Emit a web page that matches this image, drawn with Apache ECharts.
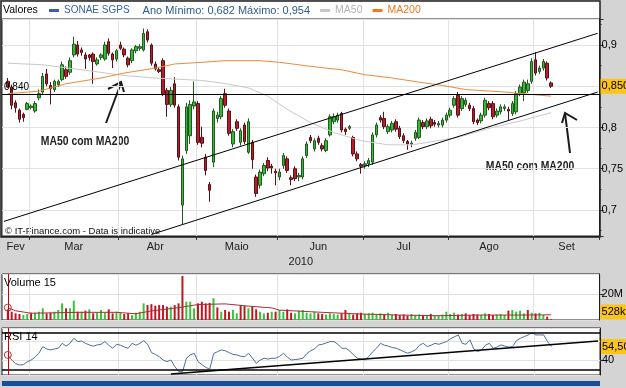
<!DOCTYPE html>
<html><head><meta charset="utf-8">
<script src="https://cdn.jsdelivr.net/npm/echarts@6/dist/echarts.min.js"></script>
<style>html,body{margin:0;padding:0;background:#d4d4d4;}#c{width:626px;height:388px;}</style>
</head><body><div id="c"></div>
<script>
const dates = ['02-18','02-19','02-22','02-23','02-24','02-25','02-26',
'03-01','03-02','03-03','03-04','03-05','03-08','03-09','03-10','03-11','03-12','03-15','03-16','03-17','03-18','03-19','03-22','03-23','03-24','03-25','03-26','03-29','03-30','03-31',
'04-01','04-06','04-07','04-08','04-09','04-12','04-13','04-14','04-15','04-16','04-19','04-20','04-21','04-22','04-23','04-26','04-27','04-28','04-29','04-30',
'05-03','05-04','05-05','05-06','05-07','05-10','05-11','05-12','05-13','05-14','05-17','05-18','05-19','05-20','05-21','05-24','05-25','05-26','05-27','05-28','05-31',
'06-01','06-02','06-03','06-04','06-07','06-08','06-09','06-10','06-11','06-14','06-15','06-16','06-17','06-18','06-21','06-22','06-23','06-24','06-25','06-28','06-29','06-30',
'07-01','07-02','07-05','07-06','07-07','07-08','07-09','07-12','07-13','07-14','07-15','07-16','07-19','07-20','07-21','07-22','07-23','07-26','07-27','07-28','07-29','07-30',
'08-02','08-03','08-04','08-05','08-06','08-09','08-10','08-11','08-12','08-13','08-16','08-17','08-18','08-19','08-20','08-23','08-24','08-25','08-26','08-27','08-30','08-31',
'09-01','09-02','09-03','09-06','09-07','09-08','09-09','09-10','09-13','09-14','09-15','09-16','09-17','09-20','09-21','09-22','09-23'];
const firstTradingDate = '02-19';
const monthLabels = {'02':'Fev','03':'Mar','04':'Abr','05':'Maio','06':'Jun','07':'Jul','08':'Ago','09':'Set'};
const yearLabel = '2010';

const open = [.856,.849,.830,.821,.816,.822,.824,.820,.836,.843,
.865,.851,.846,.852,.858,.870,.867,.888,.900,.894,
.888,.888,.889,.877,.885,.883,.904,.889,.883,.900,
.895,.884,.881,.893,.896,.894,.916,.900,.877,.870,
.881,.845,.828,.853,.825,.706,.772,.790,.826,.829,
.788,.764,.731,.758,.811,.813,.841,.820,.780,.807,
.782,.803,.770,.782,.740,.730,.744,.760,.753,.747,
.740,.754,.762,.739,.750,.740,.740,.766,.788,.774,
.787,.778,.772,.791,.807,.809,.817,.798,.799,.788,
.768,.755,.754,.756,.758,.791,.812,.811,.795,.797,
.807,.799,.790,.783,.780,.787,.788,.806,.801,.810,
.806,.803,.803,.809,.815,.827,.839,.823,.828,.827,
.823,.809,.808,.815,.829,.829,.815,.819,.823,.822,
.817,.819,.841,.842,.845,.856,.882,.868,.872,.878,
.854];
const high = [.860,.852,.833,.823,.818,.831,.828,.832,.846,.866,
.871,.855,.858,.858,.880,.874,.885,.910,.905,.897,
.891,.889,.891,.885,.890,.904,.908,.891,.895,.904,
.897,.886,.896,.900,.901,.920,.919,.902,.880,.872,
.884,.848,.849,.861,.828,.766,.830,.833,.856,.832,
.801,.768,.734,.823,.819,.838,.847,.823,.798,.810,
.799,.806,.811,.785,.743,.749,.757,.764,.756,.750,
.750,.769,.765,.742,.753,.745,.765,.783,.791,.787,
.790,.781,.787,.816,.817,.818,.819,.800,.803,.790,
.771,.757,.759,.763,.794,.806,.815,.819,.804,.808,
.810,.802,.793,.785,.784,.797,.812,.809,.811,.813,
.809,.808,.812,.818,.824,.838,.843,.838,.836,.830,
.826,.811,.818,.836,.832,.832,.823,.828,.828,.825,
.832,.844,.852,.858,.858,.884,.891,.875,.883,.880,
.856];
const low = [.848,.822,.818,.806,.807,.821,.822,.818,.833,.840,
.850,.828,.843,.849,.856,.859,.864,.885,.886,.887,
.871,.881,.853,.875,.882,.881,.887,.872,.880,.894,
.885,.873,.878,.890,.893,.892,.903,.875,.869,.866,
.838,.813,.825,.824,.760,.683,.768,.780,.822,.779,
.776,.742,.710,.752,.806,.810,.824,.790,.776,.796,
.778,.780,.768,.750,.716,.726,.741,.747,.744,.730,
.736,.750,.745,.730,.735,.735,.737,.763,.781,.771,
.779,.771,.770,.789,.804,.806,.794,.791,.797,.765,
.759,.744,.750,.752,.755,.788,.806,.798,.792,.794,
.795,.786,.781,.773,.776,.784,.786,.798,.798,.799,
.801,.800,.800,.806,.812,.824,.812,.820,.825,.820,
.804,.803,.805,.812,.821,.810,.812,.816,.820,.809,
.814,.816,.838,.832,.842,.853,.863,.865,.869,.857,
.848];
const close = [.849,.827,.824,.810,.812,.829,.826,.829,.841,.862,
.853,.847,.856,.856,.876,.862,.881,.901,.889,.891,
.883,.885,.880,.882,.888,.900,.890,.882,.893,.896,
.888,.876,.894,.898,.898,.914,.906,.878,.871,.868,
.841,.828,.845,.827,.764,.762,.825,.828,.831,.782,
.781,.748,.724,.820,.815,.835,.827,.793,.795,.799,
.796,.783,.807,.761,.720,.746,.754,.751,.751,.745,
.746,.766,.748,.737,.738,.742,.762,.780,.784,.784,
.782,.774,.784,.813,.813,.815,.797,.795,.801,.768,
.762,.753,.756,.760,.791,.803,.809,.801,.801,.805,
.798,.789,.784,.780,.781,.794,.809,.801,.808,.802,
.804,.805,.809,.815,.821,.835,.815,.835,.833,.823,
.807,.806,.815,.833,.824,.813,.820,.825,.825,.820,
.829,.841,.849,.855,.853,.880,.866,.872,.880,.860,
.850];
// volume in millions of shares
const volume = [8.2,6.4,5.1,4.6,3.8,4.6, 5.6,5.6,6.4,9.0, 5.1,5.6,6.4,7.7,12.8, 9.0,9.0,14.9,6.4,
6.4,7.2,8.2,5.1,5.6, 7.7,5.6,8.2,5.1,6.4, 5.6,4.6,5.1,3.8,5.6,6.4,12.8, 11.5,12.2,11.0,11.5,11.5,10.3,
10.3,11.5,12.8,33.8, 14.1,14.1,9.0,12.8,14.1,12.8,13.2,16.7, 9.7,6.4,7.7,6.4,7.7,5.1,
11.5,10.7,9.0,10.3,8.2,6.4,5.1,5.6,6.4, 6.4,7.7,6.4,8.2,5.6,5.1,7.2,7.7,5.6,5.1,6.4,
5.1,4.6,4.2,5.1,4.6,4.2,5.1,7.7,4.6,4.2,5.1, 5.6,4.6,5.1,5.6,4.2,5.1,4.6,5.6,4.2,4.6,
3.8,4.2,3.4,4.6,3.8,4.2,3.4,3.8,4.6,3.4,3.8,4.2,6.4, 4.6,5.6,4.2,4.6,5.1,3.8,4.6,4.2,3.8,5.1,4.6,3.8,4.2,4.6,3.8,
7.2,7.7,6.4,7.2,5.1,7.7, 5.6,5.1,5.6,3.8,2.6,0.53];
const rsi = [45.5,40,36,34.6,35,38,40,43,47.3,54.4,
52,50.9,52,52.7,58,55,58,63.5,59.9,60.5,
58,56.3,55,56.3,57,59.9,56,52.7,57,56,
54,52.7,58,56,58,61,57,48,46,43.6,
40,38.2,40,33,27.4,27.4,42,45.5,47.3,38.2,
35,32,30,47,49,50.9,50,48,46,45.5,
44,43.6,47.3,42,36.5,40,41.9,41,42,41.9,
44,47.3,43,40,40.5,41,41.9,47,50,52,
56.3,57,58.5,59.9,59.9,57,52.7,52.7,50,45.5,
42,41,40,44,49,53,58,56,55,53.5,
52.7,51,49,47.3,49,50.9,56,58,54.5,56,
58,57,58.5,59.9,63,65,67.1,58,57,61.8,
52,49,50.9,56,58,52.7,54,56.3,55,54,
54.5,61,63.5,65.3,67.1,69.6,67.1,67.1,67.1,59.9,
54.5];
const ma50Dates = ['02-19','03-04','03-18','04-06','04-16','05-04','05-11','05-20','05-27','06-03','06-11','06-21','06-30','07-09','07-19','07-22','08-04','08-16','08-27','09-07'];
const ma50Values = [.878,.876,.870,.863,.860,.857,.854,.848,.838,.822,.806,.794,.784,.779,.779,.781,.788,.799,.809,.818];
const ma200Dates = ['02-19','03-03','03-12','03-25','04-06','04-16','04-23','05-04','05-12','05-25','06-01','06-08','06-15','06-23','07-01','07-12','07-21','07-29','08-06','08-20','08-31','09-07'];
const ma200Values = [.841,.844,.853,.860,.866,.872,.877,.879,.881,.881,.879,.876,.873,.870,.864,.860,.855,.851,.846,.843,.840,.838];
const volMaDates = ['02-19','02-23','03-01','03-17','03-31','04-09','04-15','04-26','05-03','05-12','05-20','05-28','06-01','06-16','06-30','07-14','07-28','08-11','08-26','09-07'];
const volMaValues = [9.5,7.1,5.2,5.9,5.9,4.8,7.0,9.5,11.9,12.4,10.7,9.3,7.6,5.9,4.6,3.8,3.3,3.8,3.8,4.0];
const upperChannel = [['02-18',0.6862],['09-23',0.9142]];
const lowerChannel = [['04-15',0.6703],['09-23',0.8430]];
const rsiTrend = [['04-22',25.0],['09-23',60.6]];
const rsiShownLabels = [40];
const supportLevel = 0.84;
const lastPrice = 0.85;
const lastVolumeText = '528k';
const lastRsi = 54.5;
const yearMin = 0.682, yearMax = 0.954;

const FONT = '"Liberation Sans", Arial, sans-serif';
const comma = v => String(v).replace('.', ',');
const lead = dates.indexOf(firstTradingDate);
const at = (arr, i) => { const k = i - lead; return (k >= 0 && k < arr.length) ? arr[k] : null; };

const candle = dates.map((d, i) => { const k = i - lead; return (k >= 0 && k < close.length) ? [open[k], close[k], low[k], high[k]] : '-'; });
const volData = dates.map((d, i) => {
  const k = i - lead; if (k < 0 || k >= volume.length) return '-';
  const up = k === 0 ? close[k] >= open[k] : close[k] >= close[k - 1];
  return { value: volume[k], itemStyle: { color: up ? '#38c238' : '#c0161f' } };
});
const rsiData = dates.map((d, i) => { const v = at(rsi, i); return v == null ? '-' : v; });
const pairs = (ds, vs) => ds.map((d, i) => [d, vs[i]]);

const groups = {};
dates.forEach((d, i) => { const m = d.slice(0, 2); (groups[m] = groups[m] || []).push(i); });
const monthStart = new Set(), monthMid = new Set();
Object.keys(groups).forEach(m => { const g = groups[m]; if (g[0] > 0) monthStart.add(g[0]); monthMid.add(g[Math.floor((g.length - 1) / 2)]); });
const startFn = i => monthStart.has(i);

const HIDDEN = { color: 'rgba(0,0,0,0)', width: 1, type: 'solid' };
const tag = (text) => ({ show: true, position: 'end', distance: 1, formatter: text, backgroundColor: '#fbc417', color: '#000',
  fontFamily: FONT, fontSize: 11, padding: [2, 3, 2, 1] });

const gridBase = { left: 2, right: 26, show: true, borderColor: '#1e1e1e', borderWidth: 1 };
const catAxis = (gi, main) => ({
  type: 'category', gridIndex: gi, data: dates, boundaryGap: true,
  axisLine: { show: main, lineStyle: { color: '#1e1e1e' } },
  axisTick: { show: main, interval: startFn, length: 4, lineStyle: { color: '#333' } },
  axisLabel: main ? { interval: (i) => monthMid.has(i), formatter: v => monthLabels[v.slice(0, 2)], fontFamily: FONT, fontSize: 11, color: '#222', margin: 5 } : { show: false },
  splitLine: { show: true, interval: startFn, lineStyle: { color: '#e2e2e2', width: 1 } },
  name: main ? yearLabel : '', nameLocation: 'middle', nameGap: 20,
  nameTextStyle: { fontFamily: FONT, fontSize: 11, color: '#222' }
});
const yLabel = (fmt) => ({ fontFamily: FONT, fontSize: 11, color: '#000', margin: 2, showMinLabel: false, showMaxLabel: false, formatter: fmt });
const valAxisStyle = {
  position: 'right', axisLine: { show: true, lineStyle: { color: '#1e1e1e' } },
  axisTick: { show: true, length: 4, lineStyle: { color: '#333' } },
  splitLine: { show: true, lineStyle: { color: '#e2e2e2' } }
};

const option = {
  backgroundColor: '#d4d4d4',
  animation: false,
  title: [
    { text: 'Valores', left: 3, top: 5, padding: 0, textStyle: { fontFamily: FONT, fontSize: 10.5, fontWeight: 'normal', color: '#000' } },
    { text: 'Volume 15', left: 4, top: 277, padding: 0, textStyle: { fontFamily: FONT, fontSize: 11, fontWeight: 'normal', color: '#000' } },
    { text: 'RSI 14', left: 4, top: 331, padding: 0, textStyle: { fontFamily: FONT, fontSize: 11, fontWeight: 'normal', color: '#000' } }
  ],
  legend: {
    left: 49, top: 5, padding: 0, itemGap: 10, itemWidth: 10, itemHeight: 3, icon: 'rect', selectedMode: false,
    textStyle: { fontFamily: FONT, fontSize: 10.5,
      rich: { s: { fontFamily: FONT, fontSize: 10, color: '#3a62a8' },
              m: { fontFamily: FONT, fontSize: 11, color: '#2d5c88', padding: [0, 1, 0, 13] } } },
    formatter: n => n === 'SONAE SGPS' ? '{s|' + n + '}{m|Ano Mínimo: ' + comma(yearMin) + ' Máximo: ' + comma(yearMax) + '}' : n,
    data: [
      { name: 'SONAE SGPS', itemStyle: { color: '#3a62a8', borderColor: '#3a62a8', borderWidth: 0 }, textStyle: { color: '#3a62a8' } },
      { name: 'MA50', itemStyle: { color: '#c6c6c6' }, textStyle: { color: '#b2b2b2' } },
      { name: 'MA200', itemStyle: { color: '#f07822' }, textStyle: { color: '#f07822' } }
    ]
  },
  grid: [
    Object.assign({}, gridBase, { top: 19, height: 217, backgroundColor: 'transparent' }),
    Object.assign({}, gridBase, { top: 274, height: 46, backgroundColor: '#fff' }),
    Object.assign({}, gridBase, { top: 328, height: 47, backgroundColor: '#fff' })
  ],
  xAxis: [catAxis(0, true), catAxis(1, false), catAxis(2, false)],
  yAxis: [
    Object.assign({}, valAxisStyle, { type: 'value', gridIndex: 0, min: 0.66848, max: 0.93152, splitNumber: 5,
      minorTick: { show: true, splitNumber: 2, length: 2, lineStyle: { color: '#333' } },
      axisLabel: yLabel(v => comma(+v.toFixed(3))) }),
    Object.assign({}, valAxisStyle, { type: 'value', gridIndex: 1, min: 0, max: 35.4, interval: 20,
      axisLabel: yLabel(v => v + 'M') }),
    Object.assign({}, valAxisStyle, { type: 'value', gridIndex: 2, min: 23.8, max: 74.6, splitNumber: 3,
      axisLabel: yLabel(v => rsiShownLabels.includes(v) ? String(v) : '') })
  ],
  series: [
    { name: 'SONAE SGPS', type: 'candlestick', xAxisIndex: 0, yAxisIndex: 0, data: candle, barWidth: 3,
      itemStyle: { color: '#39b739', color0: '#b3202a', borderColor: '#1f5a1f', borderColor0: '#5a1016', borderWidth: 1 } },
    { name: 'MA50', type: 'line', xAxisIndex: 0, yAxisIndex: 0, data: pairs(ma50Dates, ma50Values), symbol: 'none',
      lineStyle: { color: '#c9c9c9', width: 1 }, itemStyle: { color: '#c6c6c6' }, z: 3 },
    { name: 'MA200', type: 'line', xAxisIndex: 0, yAxisIndex: 0, data: pairs(ma200Dates, ma200Values), symbol: 'none',
      lineStyle: { color: '#ec8a3c', width: 1 }, itemStyle: { color: '#f07822' }, z: 3,
      markLine: { silent: true, symbol: 'none', animation: false,
        data: [
          { yAxis: supportLevel, lineStyle: { color: '#000', width: 1, type: 'solid' },
            label: { show: true, position: 'insideStartTop', distance: 2, formatter: comma(supportLevel.toFixed(3)), fontFamily: FONT, fontSize: 10, color: '#000' } },
          { yAxis: lastPrice, lineStyle: HIDDEN, label: tag(comma(lastPrice.toFixed(3))) },
          [{ coord: upperChannel[0], lineStyle: { color: '#000', width: 1, type: 'solid' }, label: { show: false } }, { coord: upperChannel[1] }],
          [{ coord: lowerChannel[0], lineStyle: { color: '#000', width: 1, type: 'solid' }, label: { show: false } }, { coord: lowerChannel[1] }]
        ]
      } },
    { name: 'Volume', type: 'bar', xAxisIndex: 1, yAxisIndex: 1, data: volData, barWidth: 2,
      markLine: { silent: true, symbol: 'none', animation: false,
        data: [
          { xAxis: firstTradingDate, lineStyle: { color: '#cc0000', width: 1, type: 'solid' }, label: { show: false } },
          { yAxis: 6.2, lineStyle: HIDDEN, label: tag(lastVolumeText) }
        ] } },
    { name: 'VolMA', type: 'line', xAxisIndex: 1, yAxisIndex: 1, data: pairs(volMaDates, volMaValues), symbol: 'none',
      lineStyle: { color: '#a4303a', width: 1 }, z: 4,
      markPoint: { silent: true, animation: false, data: [{ coord: [volMaDates[0], volMaValues[0]], symbol: 'circle', symbolSize: 7,
        itemStyle: { color: 'rgba(0,0,0,0)', borderColor: '#b03030', borderWidth: 1 }, label: { show: false } }] } },
    { name: 'RSI', type: 'line', xAxisIndex: 2, yAxisIndex: 2, data: rsiData, symbol: 'none',
      lineStyle: { color: '#4d6e9e', width: 1 },
      markLine: { silent: true, symbol: 'none', animation: false,
        data: [
          { yAxis: 70, lineStyle: { color: '#000', width: 1.5, type: 'solid' }, label: { show: false } },
          { yAxis: 30, lineStyle: { color: '#000', width: 1.5, type: 'solid' }, label: { show: false } },
          [{ coord: rsiTrend[0], lineStyle: { color: '#000', width: 1.5, type: 'solid' }, label: { show: false } }, { coord: rsiTrend[1] }],
          { xAxis: firstTradingDate, lineStyle: { color: '#cc0000', width: 1, type: 'solid' }, label: { show: false } },
          { yAxis: lastRsi, lineStyle: HIDDEN, label: tag(comma(lastRsi.toFixed(2))) }
        ] },
      markPoint: { silent: true, animation: false, data: [{ coord: [firstTradingDate, rsi[0]], symbol: 'circle', symbolSize: 7,
        itemStyle: { color: 'rgba(0,0,0,0)', borderColor: '#b03030', borderWidth: 1 }, label: { show: false } }] } }
  ],
  graphic: [
    { type: 'rect', z: -1, silent: true, shape: { x: 1, y: 1, width: 599, height: 236 }, style: { fill: '#fff', stroke: '#1e1e1e', lineWidth: 1.5 } },
    { type: 'rect', silent: true, shape: { x: 2, y: 381, width: 598, height: 5 }, style: { fill: '#1b4c9b' } },
    { type: 'text', silent: true, x: 5, y: 231, style: { text: '© IT-Finance.com - Data is indicative', fontFamily: FONT, fontSize: 9.5, fill: '#111', verticalAlign: 'middle' } },
    { type: 'text', silent: true, x: 85, y: 141, scaleX: 0.8, style: { text: 'MA50 com MA200', fontFamily: FONT, fontSize: 13, fontWeight: 'bold', fill: '#222', align: 'center', verticalAlign: 'middle' } },
    { type: 'text', silent: true, x: 530, y: 166, scaleX: 0.8, style: { text: 'MA50 com MA200', fontFamily: FONT, fontSize: 13, fontWeight: 'bold', fill: '#222', align: 'center', verticalAlign: 'middle' } },
    { type: 'polyline', silent: true, shape: { points: [[106, 123], [121, 83]] }, style: { stroke: '#1a1a1a', lineWidth: 2, fill: null } },
    { type: 'polyline', silent: true, shape: { points: [[108, 89], [121, 82], [124, 92]] }, style: { stroke: '#1a1a1a', lineWidth: 2, fill: null } },
    { type: 'polyline', silent: true, shape: { points: [[570, 153], [565, 113]] }, style: { stroke: '#1a1a1a', lineWidth: 2, fill: null } },
    { type: 'polyline', silent: true, shape: { points: [[562, 123], [565, 113], [577, 120]] }, style: { stroke: '#1a1a1a', lineWidth: 2, fill: null } }
  ]
};
const chart = echarts.init(document.getElementById('c'), null, { renderer: 'canvas' });
chart.setOption(option);
</script></body></html>
